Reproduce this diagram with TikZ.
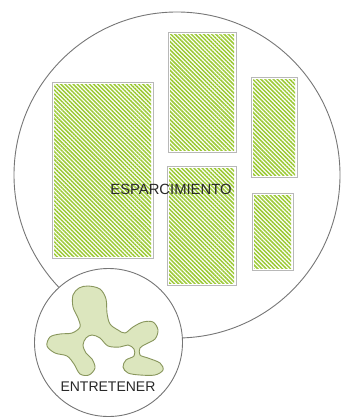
\documentclass[tikz,border=0pt]{standalone}
\usepackage{fontspec}
\setmainfont{Liberation Sans}
\usepackage{xcolor}
\usepackage{tikz}
\usetikzlibrary{patterns.meta}

\definecolor{ringgray}{RGB}{118,118,118}
\definecolor{boxgray}{RGB}{184,184,184}
\definecolor{hatchgreen}{RGB}{156,202,52}
\definecolor{blobfill}{RGB}{220,230,190}
\definecolor{blobline}{RGB}{136,150,92}
\definecolor{textgray}{RGB}{40,40,40}

\begin{document}
\begin{tikzpicture}[
    x=1pt, y=-1pt,
    ring/.style={circle, draw=ringgray, line width=0.9pt, fill=white, inner sep=0pt},
    area/.style={rectangle, draw=boxgray, line width=1pt, fill=white, inner sep=0pt,
        path picture={
            \fill[pattern={Lines[angle=-45, distance=2.9pt, line width=1.5pt]}, pattern color=hatchgreen]
                ([xshift=2pt,yshift=2pt]path picture bounding box.south west) rectangle
                ([xshift=-2pt,yshift=-2pt]path picture bounding box.north east);
        }},
    label/.style={font=\fontsize{14}{16}\selectfont, text=textgray, inner sep=0pt}
]
\useasboundingbox (0,0) rectangle (341,417);

% Outer ring
\node[ring, minimum size=326pt] (esparcimiento) at (177,175) {};

% Play areas
\node[area, minimum width=101pt, minimum height=175pt] (zonaLeft) at (102.5,170.5) {};
\node[area, minimum width=68pt, minimum height=119pt] (zonaTop) at (202,92.5) {};
\node[area, minimum width=69pt, minimum height=119pt] (zonaMid) at (201.5,225.5) {};
\node[area, minimum width=46pt, minimum height=99pt] (zonaRightTop) at (274,127.5) {};
\node[area, minimum width=41pt, minimum height=77pt] (zonaRightBot) at (272.5,231.5) {};

\node[label, font=\fontsize{14.8}{16}\selectfont] (esparcimientoText) at (171,189) {ESPARCIMIENTO};

% Inner ring
\node[ring, minimum size=148pt] (entretener) at (108.5,342.5) {};

% Blob
\draw[blobline, fill=blobfill, line width=0.9pt] plot[smooth cycle, tension=0.55] coordinates {
    (88,286) (100,289) (106,299) (107,313) (110,324) (118,330) (125,333)
    (133,327) (143,322) (153,322) (158,330) (155,339) (146,344) (140,348)
    (140,355) (148,358) (160,363) (163,370) (155,375) (140,375) (128,373)
    (123,367) (126,360) (134,356) (134,349) (128,345) (120,347) (108,346)
    (100,338) (92,335) (86,338) (83,345) (86,353) (92,359) (95,368)
    (89,375) (80,374) (74,364) (67,356) (55,353) (47,346) (50,337)
    (60,334) (72,333) (80,327) (78,318) (73,307) (73,295) (79,288)};

\node[label] (entretenerText) at (108,387) {ENTRETENER};

\end{tikzpicture}
\end{document}
